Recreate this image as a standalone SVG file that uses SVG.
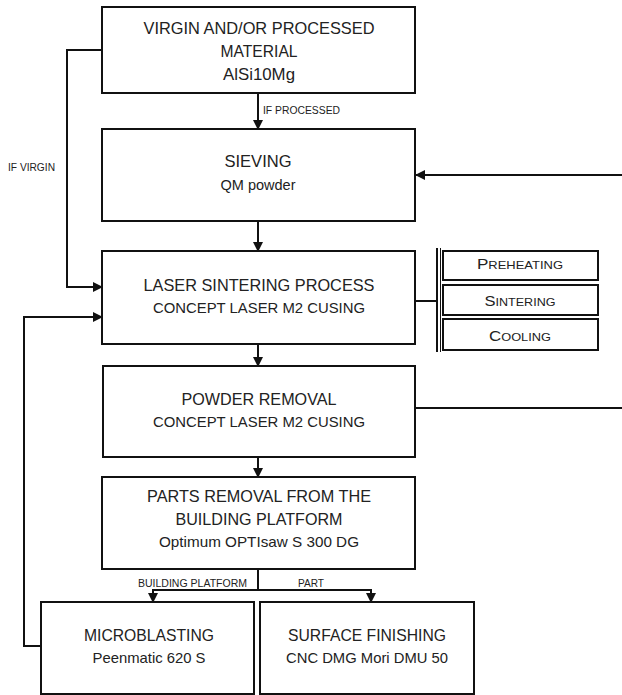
<svg xmlns="http://www.w3.org/2000/svg" width="622" height="695" viewBox="0 0 622 695">
<defs>
<marker id="ah" markerWidth="10" markerHeight="10" refX="9" refY="5" orient="auto" markerUnits="userSpaceOnUse">
<path d="M0,0 L10,5 L0,10 Z" fill="#111"/>
</marker>
</defs>
<style>
.box{fill:#fff;stroke:#111;stroke-width:2}
.sbox{fill:#fff;stroke:#111;stroke-width:2}
.ln{fill:none;stroke:#111;stroke-width:2}
text{font-family:"Liberation Sans Narrow","Liberation Sans",Arial,sans-serif;fill:#222;text-anchor:middle}
.t{font-size:17px}
.s{font-size:15px}
.lab{font-size:10px;text-anchor:start}
.sc{font-size:11px}
.scb{font-size:14.5px}
</style>
<rect width="622" height="695" fill="#fff"/>
<g id="connectors">
<line class="ln" x1="258" y1="93" x2="258" y2="129" marker-end="url(#ah)"/>
<polyline class="ln" points="102,50 67,50 67,287 102,287" marker-end="url(#ah)"/>
<line class="ln" x1="622" y1="175" x2="416" y2="175" marker-end="url(#ah)"/>
<line class="ln" x1="258" y1="221" x2="258" y2="251" marker-end="url(#ah)"/>
<polyline class="ln" points="41,646 24,646 24,317 102,317" marker-end="url(#ah)"/>
<line class="ln" x1="415" y1="301" x2="438" y2="301"/>
<line x1="437" y1="248" x2="437" y2="352" stroke="#111" stroke-width="2"/>
<line x1="440.5" y1="248" x2="440.5" y2="352" stroke="#111" stroke-width="1"/>
<line class="ln" x1="258" y1="344" x2="258" y2="366" marker-end="url(#ah)"/>
<line class="ln" x1="415" y1="408" x2="622" y2="408"/>
<line class="ln" x1="258" y1="457" x2="258" y2="477" marker-end="url(#ah)"/>
<line class="ln" x1="258" y1="569" x2="258" y2="590"/>
<line class="ln" x1="152" y1="590" x2="372" y2="590"/>
<line class="ln" x1="153" y1="590" x2="153" y2="602" marker-end="url(#ah)"/>
<line class="ln" x1="371" y1="590" x2="371" y2="602" marker-end="url(#ah)"/>
<text class="lab" x="263" y="114" textLength="77" lengthAdjust="spacingAndGlyphs">IF PROCESSED</text>
<text class="lab" x="8" y="171" textLength="47" lengthAdjust="spacingAndGlyphs">IF VIRGIN</text>
<text class="lab" x="138" y="587" textLength="109" lengthAdjust="spacingAndGlyphs">BUILDING  PLATFORM</text>
<text class="lab" x="298" y="587" textLength="26" lengthAdjust="spacingAndGlyphs">PART</text>
</g>
<g id="material">
<rect class="box" x="102" y="7" width="313" height="86"/>
<text class="t" x="259" y="34" textLength="231" lengthAdjust="spacingAndGlyphs">VIRGIN  AND/OR PROCESSED</text>
<text class="t" x="259" y="57" textLength="77" lengthAdjust="spacingAndGlyphs">MATERIAL</text>
<text class="t" x="259" y="80" textLength="72" lengthAdjust="spacingAndGlyphs">AlSi10Mg</text>
</g>
<g id="sieving">
<rect class="box" x="102" y="129" width="313" height="92"/>
<text class="t" x="258" y="167" textLength="67" lengthAdjust="spacingAndGlyphs">SIEVING</text>
<text class="s" x="258" y="190" textLength="75" lengthAdjust="spacingAndGlyphs">QM powder</text>
</g>
<g id="laser">
<rect class="box" x="102" y="251" width="313" height="93"/>
<text class="t" x="259" y="291" textLength="231" lengthAdjust="spacingAndGlyphs">LASER SINTERING  PROCESS</text>
<text class="s" x="259" y="313" textLength="212" lengthAdjust="spacingAndGlyphs">CONCEPT LASER M2  CUSING</text>
</g>
<g id="preheating">
<rect class="sbox" x="443" y="251" width="155" height="29"/>
<text x="520" y="269" textLength="86" lengthAdjust="spacingAndGlyphs"><tspan class="scb">P</tspan><tspan class="sc">REHEATING</tspan></text>
</g>
<g id="sintering">
<rect class="sbox" x="443" y="285" width="155" height="30"/>
<text x="520" y="306" textLength="71" lengthAdjust="spacingAndGlyphs"><tspan class="scb">S</tspan><tspan class="sc">INTERING</tspan></text>
</g>
<g id="cooling">
<rect class="sbox" x="443" y="319" width="155" height="31"/>
<text x="520" y="341" textLength="62" lengthAdjust="spacingAndGlyphs"><tspan class="scb">C</tspan><tspan class="sc">OOLING</tspan></text>
</g>
<g id="powder">
<rect class="box" x="103" y="366" width="312" height="91"/>
<text class="t" x="259" y="405" textLength="155" lengthAdjust="spacingAndGlyphs">POWDER REMOVAL</text>
<text class="s" x="259" y="427" textLength="212" lengthAdjust="spacingAndGlyphs">CONCEPT LASER M2  CUSING</text>
</g>
<g id="parts">
<rect class="box" x="102" y="477" width="313" height="92"/>
<text class="t" x="259" y="502" textLength="224" lengthAdjust="spacingAndGlyphs">PARTS REMOVAL FROM  THE</text>
<text class="t" x="259" y="525" textLength="167" lengthAdjust="spacingAndGlyphs">BUILDING  PLATFORM</text>
<text class="s" x="259" y="547" textLength="200" lengthAdjust="spacingAndGlyphs">Optimum OPTIsaw S 300 DG</text>
</g>
<g id="microblasting">
<rect class="box" x="41" y="602" width="213" height="92"/>
<text class="t" x="149" y="641" textLength="130" lengthAdjust="spacingAndGlyphs">MICROBLASTING</text>
<text class="s" x="149" y="663" textLength="113" lengthAdjust="spacingAndGlyphs">Peenmatic 620  S</text>
</g>
<g id="surface">
<rect class="box" x="260" y="602" width="214" height="92"/>
<text class="t" x="367" y="641" textLength="158" lengthAdjust="spacingAndGlyphs">SURFACE FINISHING</text>
<text class="s" x="367" y="663" textLength="162" lengthAdjust="spacingAndGlyphs">CNC DMG Mori  DMU 50</text>
</g>
</svg>
